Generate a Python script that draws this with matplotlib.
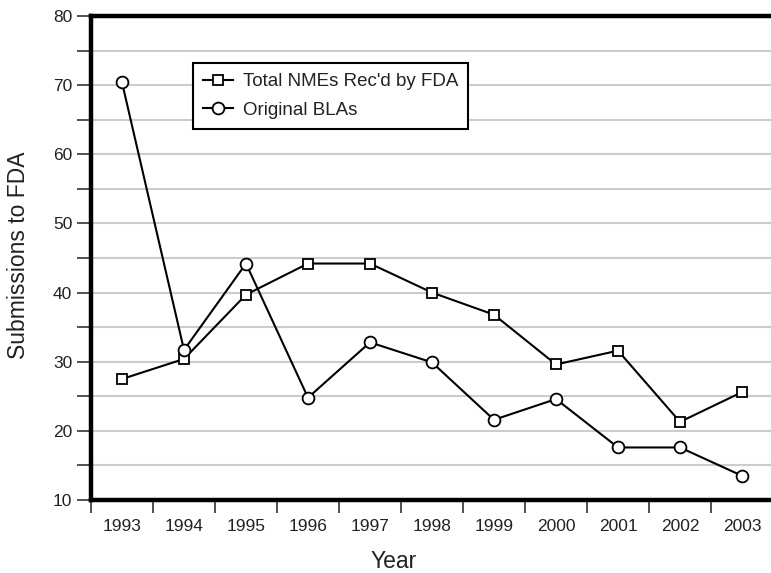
import matplotlib
matplotlib.use('Agg')
import matplotlib.pyplot as plt
import numpy as np

plt.rcParams['font.family'] = ['Liberation Sans', 'DejaVu Sans']

# data
years = ['1993', '1994', '1995', '1996', '1997', '1998', '1999', '2000', '2001', '2002', '2003']
nme_total = [27.5, 30.4, 39.7, 44.2, 44.2, 40.0, 36.8, 29.6, 31.6, 21.3, 25.6]
bla_original = [70.4, 31.7, 44.2, 24.8, 32.8, 29.9, 21.6, 24.6, 17.6, 17.6, 13.5]

fig = plt.figure(figsize=(7.71, 5.73), dpi=100)
ax = fig.add_axes([91/771, 1 - 500/573, 682/771, 484/573])

x = np.arange(len(years))

ax.plot(x, nme_total, color='black', linewidth=1.5, marker='s', markersize=7.5,
        markerfacecolor='white', markeredgecolor='black', markeredgewidth=1.3,
        label="Total NMEs Rec'd by FDA", zorder=3)
ax.plot(x, bla_original, color='black', linewidth=1.5, marker='o', markersize=8.5,
        markerfacecolor='white', markeredgecolor='black', markeredgewidth=1.3,
        label='Original BLAs', zorder=3)

ax.set_xlim(-0.5, len(years) - 0.5)
ax.set_ylim(10, 80)

# x: tick marks between years, labels centered under each year
ax.set_xticks(np.arange(-0.5, len(years), 1.0))
ax.set_xticklabels([])
ax.set_xticks(x, minor=True)
ax.set_xticklabels(years, minor=True, fontsize=12.5, color='#222222')
ax.tick_params(axis='x', which='major', direction='out', length=9, width=1.2, color='#333333')
ax.tick_params(axis='x', which='minor', length=0, pad=14)

# y: labels every 10, ticks and grid every 5
ax.set_yticks(np.arange(10, 81, 10))
ax.set_yticks(np.arange(15, 80, 10), minor=True)
ax.tick_params(axis='y', which='both', direction='out', length=10, width=1.2,
               color='#333333', labelsize=12.5, labelcolor='#222222')
ax.yaxis.grid(True, which='both', color='#cccccc', linewidth=1.5)
ax.set_axisbelow(True)

for side in ['left', 'bottom', 'top']:
    ax.spines[side].set_linewidth(3.2)
    ax.spines[side].set_color('black')
ax.spines['right'].set_visible(False)

ax.set_ylabel('Submissions to FDA', fontsize=16.5, color='#222222', va='center')
ax.yaxis.set_label_coords(-0.106, 0.505)
ax.set_xlabel('Year', fontsize=16.5, color='#222222', va='center')
ax.xaxis.set_label_coords(0.444, -0.128)

leg = ax.legend(loc='upper left', bbox_to_anchor=(0.1496, 0.903), borderaxespad=0,
                fontsize=13.5, handlelength=1.6, handletextpad=0.5, labelspacing=0.6,
                borderpad=0.55, fancybox=False, framealpha=1, edgecolor='black')
leg.get_frame().set_linewidth(1.5)
for t in leg.get_texts():
    t.set_color('#222222')

fig.savefig('out.png', dpi=100, facecolor='white')
